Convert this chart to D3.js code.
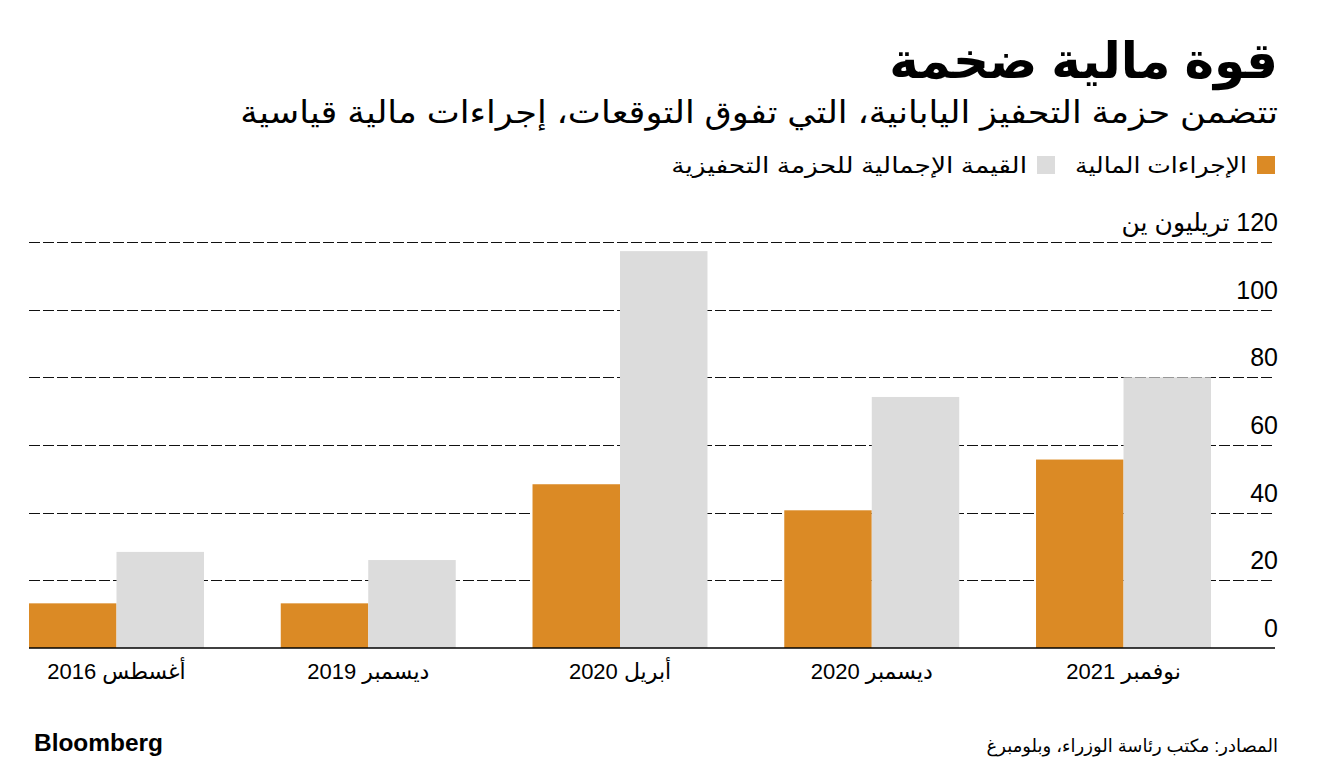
<!DOCTYPE html>
<html><head><meta charset="utf-8">
<script src="https://cdn.jsdelivr.net/npm/d3@7"></script>
<style>
html,body{margin:0;padding:0;background:#fff;}
text{font-family:"Liberation Sans","DejaVu Sans",sans-serif;fill:#000;}
</style></head>
<body>
<svg id="c" width="1322" height="768"></svg>
<script>
const categories = ["أغسطس 2016","ديسمبر 2019","أبريل 2020","ديسمبر 2020","نوفمبر 2021"];
const fiscalMeasures = [13.2, 13.2, 48.4, 40.7, 55.7];
const totalPackage = [28.4, 26, 117.3, 74.2, 80];
const yTicks = [0, 20, 40, 60, 80, 100, 120];
const seriesNames = ["الإجراءات المالية", "القيمة الإجمالية للحزمة التحفيزية"];
const seriesColors = ["#DB8A25", "#DCDCDC"];
const title = "قوة مالية ضخمة";
const subtitle = "تتضمن حزمة التحفيز اليابانية، التي تفوق التوقعات، إجراءات مالية قياسية";
const unitLabel = "120 تريليون ين";
const source = "المصادر: مكتب رئاسة الوزراء، وبلومبرغ";

const svg = d3.select("#c");
const R = 1278;
const plotL = 29, plotR = 1275;
const y = d3.scaleLinear().domain([0,120]).range([648,242]);
const x = d3.scaleBand().domain(categories).range([29,1211]).paddingInner(0.305).paddingOuter(0);
const xs = d3.scaleBand().domain([0,1]).range([0, x.bandwidth()]);

// stretch a text horizontally to a target width, keeping its anchor point fixed
function fit(t, anchorX, target){
  const w = t.node().getComputedTextLength();
  const k = target / w;
  t.attr("transform", `translate(${anchorX},0) scale(${k},1) translate(${-anchorX},0)`);
  return target;
}

// title
svg.append("text").attr("x",R).attr("y",78).attr("direction","rtl").attr("text-anchor","start")
  .style("font-size","50px").style("font-weight","bold").text(title);
const st = svg.append("text").attr("x",R).attr("y",123).attr("direction","rtl").attr("text-anchor","start")
  .style("font-size","31px").text(subtitle);
fit(st, R, 1038);

// legend
const lg = svg.append("g");
const legendWidths = [172, 356];
let lx = 1275;
seriesNames.forEach((n,i)=>{
  lg.append("rect").attr("x",lx-18).attr("y",156).attr("width",18).attr("height",18).attr("fill",seriesColors[i]);
  const ax = lx-28;
  const t = lg.append("text").attr("x",ax).attr("y",173).attr("direction","rtl").attr("text-anchor","start")
    .style("font-size","22px").text(n);
  const w = fit(t, ax, legendWidths[i]);
  lx = ax - w - 20;
});

// gridlines
const grid = svg.append("g");
yTicks.filter(d=>d>0).forEach(d=>{
  const yy = Math.round(y(d)) + 0.5;
  grid.append("line").attr("x1",plotL).attr("x2",plotR).attr("y1",yy).attr("y2",yy)
    .attr("stroke","#111").attr("stroke-width",1).attr("stroke-dasharray","11,3");
});

// y labels
yTicks.forEach(d=>{
  svg.append("text").attr("x",R).attr("y",y(d)-11).attr("direction","rtl").attr("text-anchor","start")
    .style("font-size","25px").text(d===120 ? unitLabel : String(d));
});

// bars
const gBars = svg.append("g");
categories.forEach((c,i)=>{
  [fiscalMeasures[i], totalPackage[i]].forEach((v,j)=>{
    gBars.append("rect").attr("x",x(c)+xs(j)).attr("width",xs.bandwidth())
      .attr("y",y(v)).attr("height",y(0)-y(v)).attr("fill",seriesColors[j]);
  });
});

// baseline
svg.append("line").attr("x1",plotL).attr("x2",plotR).attr("y1",y(0)).attr("y2",y(0))
  .attr("stroke","#000").attr("stroke-width",1.5);

// x labels
const xAxis = d3.axisBottom(x).tickSize(0).tickPadding(0);
const gx = svg.append("g").attr("transform",`translate(0,${y(0)})`).call(xAxis);
gx.select(".domain").remove();
gx.selectAll("text").attr("y",31).attr("dy",0).attr("direction","rtl")
  .style("font-size","22px").style("fill","#000").attr("fill","#000")
  .style("font-family",'"Liberation Sans","DejaVu Sans",sans-serif');

// footer
const bb = svg.append("text").attr("x",34).attr("y",751).style("font-size","23px").style("font-weight","bold")
  .text("Bloomberg");
fit(bb, 34, 129);
svg.append("text").attr("x",R).attr("y",752).attr("direction","rtl").attr("text-anchor","start")
  .style("font-size","18px").text(source);
</script>
</body></html>
